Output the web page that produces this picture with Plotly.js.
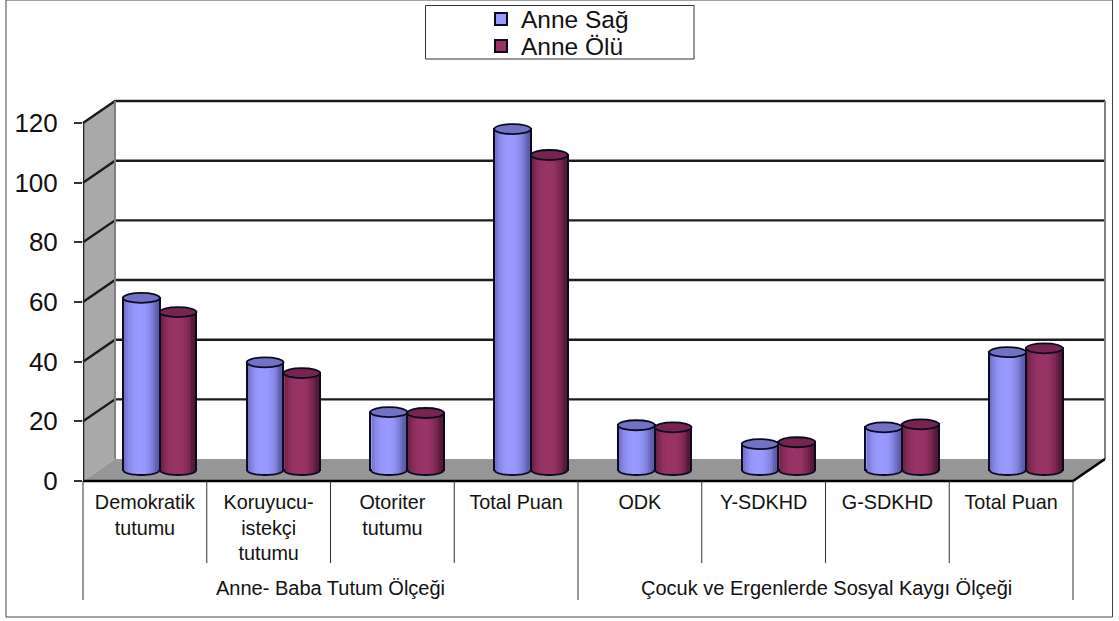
<!DOCTYPE html>
<html><head><meta charset="utf-8">
<script src="https://cdn.plot.ly/plotly-3.0.1.min.js"></script>
<style>html,body{margin:0;padding:0;background:#fff}</style></head>
<body><div id="chart" style="width:1119px;height:621px"></div>
<script>
// ---- data ----
const categories = ["Demokratik<br>tutumu","Koruyucu-<br>istekçi<br>tutumu","Otoriter<br>tutumu","Total Puan","ODK","Y-SDKHD","G-SDKHD","Total Puan"];
const groups = ["Anne- Baba Tutum Ölçeği","Çocuk ve Ergenlerde Sosyal Kaygı Ölçeği"];
const anneSag = [57.7,36.1,19.4,114.3,15,8.7,14.3,39.5];
const anneOlu = [52.9,32.5,19.1,105.6,14.3,9.3,15.3,40.8];
const yTicks = [0,20,40,60,80,100,120];

// ---- layout constants (pixels of the page) ----
const W=1119,H=621,L=83,R=1105,T=101,B=481,FR=1073,DX=32,DY=22;
const PXU=2.983, CATW=(FR-L)/8, XMAX=(R-L)/CATW, MIDY=11, MIDX=0.12;
const BARW=0.297, ELL=5/PXU, SLICES=18;
const px=x=>(x-L)/(R-L), py=y=>(B-y)/(B-T);
const pw=(x,y)=>px(x)+','+py(y);

const styles=[
 {name:"Anne Sağ",v:anneSag,base:[153,153,255],edge:[92,92,170],top:"#7272c4",off:-BARW,legend:"legend"},
 {name:"Anne Ölü",v:anneOlu,base:[153,51,102],edge:[84,24,54],top:"#76264e",off:0,legend:"legend2"}
];
const centers=categories.map((c,i)=>i+0.5+MIDX);
const rgb=(a,b,t)=>'rgb('+a.map((v,i)=>Math.round(v+(b[i]-v)*t)).join(',')+')';

const traces=[], shapes=[];
const poly=(pts,o)=>Object.assign({type:'path',xref:'paper',yref:'paper',layer:'below',
  path:'M'+pts.map(p=>pw(p[0],p[1])).join('L')+(o.closed?'Z':''),line:{width:0}},o.s);
// border
shapes.push(poly([[6,0],[1112.5,0],[1112.5,617],[6,617]],{closed:true,s:{line:{color:'#444',width:1},fillcolor:'rgba(0,0,0,0)'}}));
// walls + floor
shapes.push(poly([[L,B],[L,B-120*PXU],[L+DX,T],[L+DX,B-DY]],{closed:true,s:{fillcolor:'#a9a9a9'}}));
shapes.push(poly([[L,B],[L+DX,B-DY],[R,B-DY],[FR,B]],{closed:true,s:{fillcolor:'#969696'}}));
// grid
yTicks.forEach(t=>{
  const yf=B-t*PXU, yb=yf-DY;
  if(t>0) shapes.push(poly([[L,yf],[L+DX,yb],[R,yb]],{s:{line:{color:'#1c1c1c',width:2.4}}}));
});
// wall edges
shapes.push(poly([[L+DX,T],[L+DX,B-DY]],{s:{line:{color:'#808080',width:2}}}));
shapes.push(poly([[R,T],[R,B-DY]],{s:{line:{color:'#808080',width:2}}}));
shapes.push(poly([[L,B],[FR,B],[R,B-DY]],{s:{line:{color:'#000',width:2.5}}}));
// dividers
[0,1,2,3,4,5,6,7,8].forEach(i=>{
  const x=L+i*CATW, end=(i%4===0)?600:563;
  shapes.push(poly([[x,B],[x,end]],{s:{line:{color:'#333',width:1}}}));
});

// front edge of the value axis, carries the tick axis
traces.push({type:'scatter',mode:'lines',showlegend:false,hoverinfo:'skip',x:[0,0],y:[yTicks[0],yTicks[yTicks.length-1]],
  line:{color:'#222',width:2.5},cliponaxis:false});

styles.forEach(s=>{
  const x=centers.map(c=>c+s.off+BARW/2);
  traces.push({type:'bar',name:s.name,legend:s.legend,x:x,y:s.v,width:BARW,yaxis:'y2',
    marker:{color:'rgb('+s.base.join(',')+')',line:{color:'#0c0a20',width:2}},hoverinfo:'skip'});
  for(let k=0;k<SLICES;k++){
    const u=(k+0.5)/SLICES*2-1, sw=BARW/SLICES*0.94;
    const dip=ELL*Math.sqrt(1-u*u);
    const t=Math.pow(Math.abs(u+0.12),2.6);
    traces.push({type:'bar',showlegend:false,yaxis:'y2',hoverinfo:'skip',
      x:x.map(c=>c+u*BARW/2*0.94),base:s.v.map(()=>-dip),y:s.v.map(v=>v+dip),width:sw*1.05,
      marker:{color:rgb(s.base,s.edge,Math.min(1,t)),line:{width:0}}});
  }
  s.v.forEach((v,i)=>{
    const c=x[i],h=BARW/2;
    shapes.push({type:'circle',xref:'x',yref:'y2',layer:'above',x0:c-h,x1:c+h,y0:v-ELL,y1:v+ELL,
      fillcolor:s.top,line:{color:'#0c0a20',width:1.8}});
    let d='';
    for(let a=0;a<=24;a++){const u=a/12-1;d+=(a?'L':'M')+(c+u*h)+','+(-ELL*Math.sqrt(1-u*u));}
    shapes.push({type:'path',xref:'x',yref:'y2',layer:'above',path:d,line:{color:'#0c0a20',width:1.8}});
  });
});

// legend box
shapes.push(poly([[425.5,5.5],[694,5.5],[694,59],[425.5,59]],{closed:true,s:{line:{color:'#333',width:1},fillcolor:'#fff'}}));

const legendBase={font:{family:'Liberation Sans, Arial',size:24.5,color:'#111'},bgcolor:'rgba(0,0,0,0)',borderwidth:0,
  xanchor:'left',yanchor:'middle',indentation:-9,itemclick:false,itemdoubleclick:false};
const annotations=groups.map((g,i)=>({text:g,xref:'paper',yref:'paper',showarrow:false,
  x:px(i?826:330),y:py(588),xanchor:'center',yanchor:'middle',font:{family:'Liberation Sans, Arial',size:20,color:'#111'}}));

const layout={width:W,height:H,paper_bgcolor:'#fff',plot_bgcolor:'rgba(0,0,0,0)',showlegend:true,barmode:'overlay',
  margin:{l:L,r:W-R,t:T,b:H-B,pad:0,autoexpand:false},
  xaxis:{range:[0,XMAX],tickmode:'array',tickvals:categories.map((c,i)=>i+0.5),ticktext:categories,ticks:'',
    showgrid:false,zeroline:false,showline:false,tickangle:0,ticklabelstandoff:7,automargin:false,
    tickfont:{family:'Liberation Sans, Arial',size:19.8,color:'#111'}},
  yaxis:{range:[0,(B-T)/PXU],tickmode:'array',tickvals:yTicks,ticks:'outside',ticklen:8,tickwidth:1.5,tickcolor:'#333',
    showgrid:false,zeroline:false,showline:false,ticklabelstandoff:11,automargin:false,
    tickfont:{family:'Liberation Sans, Arial',size:26,color:'#111'}},
  yaxis2:{overlaying:'y',range:[-MIDY/PXU,(B-MIDY-T)/PXU],visible:false},
  legend:Object.assign({},legendBase,{x:px(490),y:py(19)}),
  legend2:Object.assign({},legendBase,{x:px(490),y:py(46)}),
  shapes:shapes,annotations:annotations,bargap:0
};
Plotly.newPlot('chart',traces,layout,{displayModeBar:false});
</script></body></html>
